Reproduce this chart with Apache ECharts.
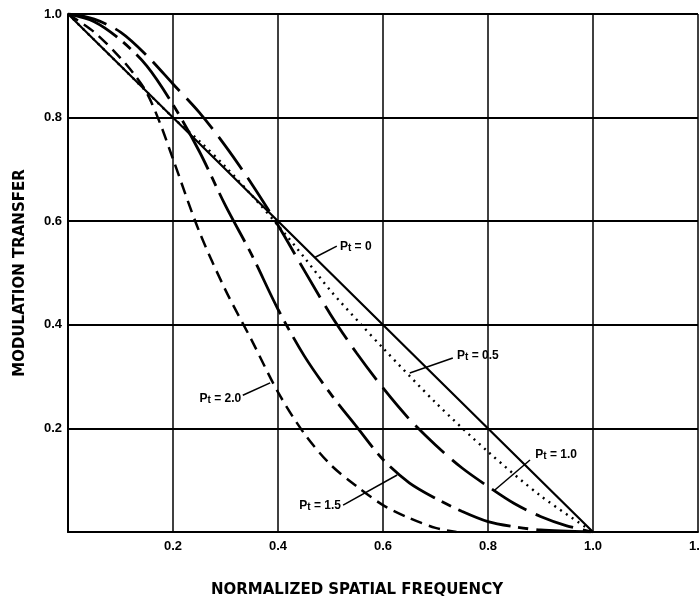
<!DOCTYPE html>
<html>
<head>
<meta charset="utf-8">
<script src="https://cdn.jsdelivr.net/npm/echarts@6/dist/echarts.min.js"></script>
<style>
  html, body { margin: 0; padding: 0; background: #fff; }
  #chart { width: 700px; height: 609px; }
</style>
</head>
<body>
<div id="chart"></div>
<script>
// 读图估计的曲线数据 [归一化空间频率, 调制传递]
let pt0 = [[0, 1], [0.5, 0.5], [1.0, 0]]
let pt05 = [[0, 1], [0.1, 0.9], [0.2, 0.8], [0.25, 0.755], [0.3, 0.705], [0.35, 0.65],
  [0.4, 0.592], [0.45, 0.53], [0.5, 0.466], [0.556, 0.403], [0.6, 0.355], [0.7, 0.25],
  [0.8, 0.155], [0.9, 0.07], [1.0, 0]]
let pt10 = [[0, 1], [0.05, 0.99], [0.1, 0.965], [0.15, 0.92], [0.2, 0.865], [0.25, 0.81],
  [0.3, 0.745], [0.35, 0.672], [0.4, 0.592], [0.45, 0.505], [0.5, 0.42], [0.55, 0.345],
  [0.6, 0.278], [0.65, 0.218], [0.7, 0.168], [0.75, 0.124], [0.8, 0.088], [0.85, 0.055],
  [0.9, 0.03], [0.95, 0.012], [1.0, 0]]
let pt15 = [[0, 1], [0.05, 0.985], [0.1, 0.95], [0.15, 0.9], [0.2, 0.825], [0.25, 0.735],
  [0.3, 0.63], [0.35, 0.535], [0.4, 0.43], [0.45, 0.34], [0.5, 0.267], [0.55, 0.203],
  [0.6, 0.14], [0.65, 0.095], [0.7, 0.065], [0.75, 0.04], [0.8, 0.02], [0.85, 0.01],
  [0.9, 0.004], [1.0, 0]]
let pt20 = [[0, 1], [0.05, 0.965], [0.1, 0.915], [0.125, 0.885], [0.15, 0.848], [0.175, 0.79],
  [0.2, 0.72], [0.25, 0.58], [0.3, 0.467], [0.35, 0.37], [0.4, 0.27], [0.45, 0.19],
  [0.5, 0.13], [0.55, 0.088], [0.6, 0.052], [0.65, 0.027], [0.7, 0.008], [0.74, 0]]
let ptNames = ['0', '0.5', '1.0', '1.5', '2.0']

let bold = 'Liberation Sans'
let heavy = 'DejaVu Sans'

// 曲线标注：文字 + 引线
function note (name, at, side, from, to) {
  return {
    markPoint: {
      symbol: 'circle',
      symbolSize: 0,
      silent: true,
      data: [{ coord: at }],
      label: {
        show: true,
        position: side,
        distance: 0,
        formatter: '{p|P}{t|t}{p| = ' + name + '}',
        rich: {
          p: { fontFamily: bold, fontWeight: 'bold', fontSize: 12, lineHeight: 12, verticalAlign: 'top', color: '#000' },
          t: { fontFamily: bold, fontWeight: 'bold', fontSize: 10, lineHeight: 10, verticalAlign: 'bottom', padding: [5, 0, 0, 0], color: '#000' }
        }
      }
    },
    markLine: {
      symbol: ['none', 'none'],
      silent: true,
      label: { show: false },
      lineStyle: { color: '#000', width: 1.5, type: 'solid' },
      data: [[{ coord: from }, { coord: to }]]
    }
  }
}

function curve (data, type, width, extra) {
  return Object.assign({
    type: 'line',
    data: data,
    showSymbol: false,
    smooth: 0.3,
    lineStyle: { color: '#000', width: width, type: type }
  }, extra)
}

let chart = echarts.init(document.getElementById('chart'))
let tick = v => v === 0 ? '' : v.toFixed(1)

chart.setOption({
  animation: false,
  grid: { left: 68, right: 2, top: 14, bottom: 77, outerBoundsMode: 'none' },
  xAxis: {
    type: 'value',
    min: 0,
    max: 1.2,
    interval: 0.2,
    name: 'NORMALIZED SPATIAL FREQUENCY',
    nameLocation: 'middle',
    nameGap: 51,
    nameTextStyle: { fontFamily: heavy, fontWeight: 'bold', fontSize: 15, color: '#000', padding: [0, 52, 0, 0] },
    axisLine: { lineStyle: { color: '#000', width: 2 } },
    axisTick: { show: false },
    axisLabel: { formatter: tick, margin: 8, fontFamily: bold, fontWeight: 'bold', fontSize: 13, color: '#000' },
    splitLine: { lineStyle: { color: '#000', width: 1.5 } }
  },
  yAxis: {
    type: 'value',
    min: 0,
    max: 1,
    interval: 0.2,
    name: 'MODULATION TRANSFER',
    nameLocation: 'middle',
    nameGap: 40,
    nameTextStyle: { fontFamily: heavy, fontWeight: 'bold', fontSize: 15, color: '#000' },
    axisLine: { lineStyle: { color: '#000', width: 2 } },
    axisTick: { show: false },
    axisLabel: { formatter: tick, margin: 6, fontFamily: bold, fontWeight: 'bold', fontSize: 13, color: '#000' },
    splitLine: { lineStyle: { color: '#000', width: 2 } }
  },
  series: [
    curve(pt0, 'solid', 2.2, note(ptNames[0], [0.518, 0.55], 'right', [0.512, 0.552], [0.47, 0.53])),
    curve(pt05, [2, 5], 2.4, note(ptNames[1], [0.741, 0.34], 'right', [0.733, 0.336], [0.651, 0.307])),
    curve(pt10, [40, 10], 2.8, note(ptNames[2], [0.89, 0.149], 'right', [0.88, 0.139], [0.813, 0.081])),
    curve(pt15, [55, 8, 10, 8], 2.8, note(ptNames[3], [0.52, 0.05], 'left', [0.524, 0.052], [0.627, 0.11])),
    curve(pt20, [12, 7], 2.5, note(ptNames[4], [0.33, 0.257], 'left', [0.333, 0.264], [0.385, 0.288]))
  ]
})
</script>
</body>
</html>
